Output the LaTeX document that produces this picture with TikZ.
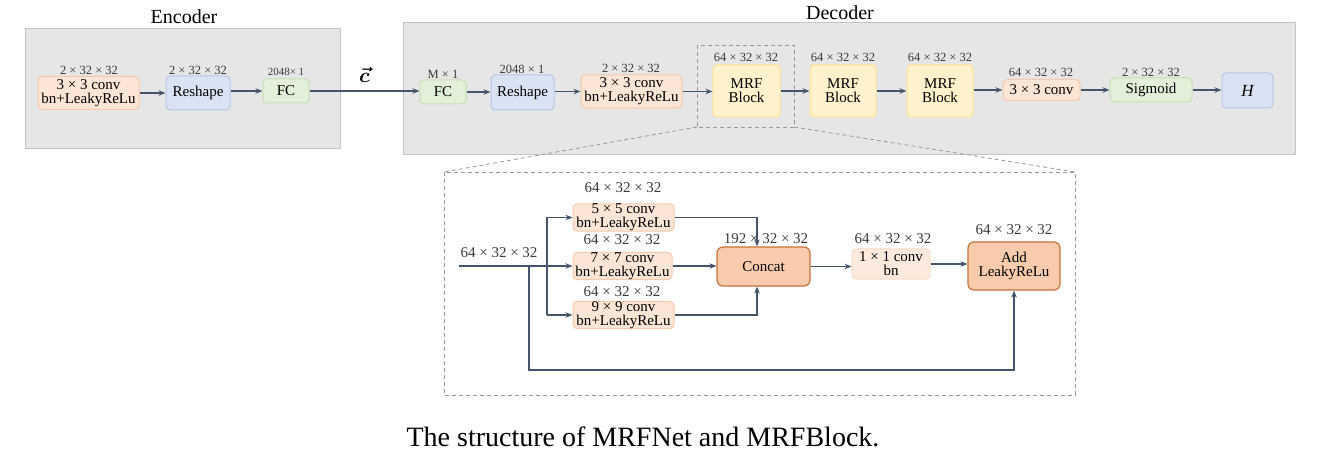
\documentclass[tikz,border=0pt]{standalone}
\usepackage{fontspec}
\setmainfont{Liberation Serif}
\usetikzlibrary{arrows.meta}
\definecolor{ofill}{HTML}{FBE5D6}
\definecolor{odraw}{HTML}{F6C9AA}
\definecolor{bfill}{HTML}{DAE3F3}
\definecolor{bdraw}{HTML}{B4C7E7}
\definecolor{gfill}{HTML}{E2F0D9}
\definecolor{gdraw}{HTML}{C5E0B4}
\definecolor{yfill}{HTML}{FFF2CC}
\definecolor{ydraw}{HTML}{FFE38F}
\definecolor{panel}{HTML}{E7E6E6}
\definecolor{paneldraw}{HTML}{C4C4C4}
\definecolor{arr}{HTML}{44546A}
\definecolor{cfill}{HTML}{F8CBAD}
\definecolor{cdraw}{HTML}{C8733A}
\definecolor{lblc}{HTML}{3A3A3A}
\begin{document}
\begin{tikzpicture}[x=1pt,y=-1pt,
  blk/.style={rounded corners=4pt, line width=1pt, inner sep=0pt, align=center,
    font=\fontsize{15}{14}\selectfont},
  ob/.style={blk, fill=ofill, draw=odraw},
  bb/.style={blk, fill=bfill, draw=bdraw},
  gb/.style={blk, fill=gfill, draw=gdraw},
  yb/.style={blk, fill=yfill, draw=ydraw},
  cb/.style={blk, fill=cfill, draw=cdraw, line width=1.2pt, rounded corners=6pt},
  lbl/.style={inner sep=0pt, text=lblc, font=\fontsize{12.5}{14}\selectfont},
  dlbl/.style={inner sep=0pt, text=lblc, font=\fontsize{15}{16}\selectfont},
  ttl/.style={inner sep=0pt, font=\fontsize{20}{22}\selectfont},
  ar/.style={draw=arr, line width=1.5pt, -{Stealth[length=7pt,width=5.5pt]}},
  dar/.style={ar, line width=1.9pt},
  ln/.style={draw=arr, line width=1.9pt},
  dsh/.style={draw=gray!80, line width=0.8pt, dash pattern=on 4pt off 3pt}
]
\useasboundingbox (0,0) rectangle (1324,470);

% ---------------- Encoder ----------------
\draw[fill=panel, draw=paneldraw, line width=0.8pt] (25,28) rectangle (340,148);
\node[ttl] (enc) at (184,17) {Encoder};

\node[ob, minimum width=101pt, minimum height=33pt] (e1) at (88.5,93) {3 × 3 conv\\bn+LeakyReLu};
\node[lbl] (e1l) at (89,70) {2 × 32 × 32};
\node[bb, minimum width=64pt, minimum height=34pt] (e2) at (198,93) {Reshape};
\node[lbl] (e2l) at (198,70) {2 × 32 × 32};
\node[gb, minimum width=46pt, minimum height=24pt] (e3) at (286,91) {FC};
\node[lbl, font=\fontsize{11}{12}\selectfont] (e3l) at (286,72) {2048× 1};

\draw[ar] (e1.east) -- (e1.east -| e2.west);
\draw[ar] (e2.east |- e3.west) -- (e3.west);

% ---------------- Decoder ----------------
\draw[fill=panel, draw=paneldraw, line width=0.8pt] (403,22) rectangle (1295,154);
\node[ttl] (dec) at (840,13) {Decoder};

\node[gb, minimum width=46pt, minimum height=24pt] (d1) at (443,92) {FC};
\node[lbl] (d1l) at (443,74) {M × 1};
\node[bb, minimum width=63pt, minimum height=35pt] (d2) at (522.5,92.5) {Reshape};
\node[lbl] (d2l) at (522,69) {2048 × 1};
\node[ob, minimum width=101pt, minimum height=33pt] (d3) at (631.5,91.5) {3 × 3 conv\\bn+LeakyReLu};
\node[lbl] (d3l) at (631,68) {2 × 32 × 32};

\draw[dsh] (697,45) rectangle (794,127);
\coordinate (zl) at (697,127);
\coordinate (zr) at (794,127);

\node[yb, minimum width=67pt, minimum height=52pt] (d4) at (746.5,91) {MRF\\Block};
\node[lbl] (d4l) at (746,57) {64 × 32 × 32};
\node[yb, minimum width=66pt, minimum height=52pt] (d5) at (843,91) {MRF\\Block};
\node[lbl] (d5l) at (843,57) {64 × 32 × 32};
\node[yb, minimum width=66pt, minimum height=52pt] (d6) at (940,91) {MRF\\Block};
\node[lbl] (d6l) at (940,57) {64 × 32 × 32};
\node[ob, minimum width=77pt, minimum height=21pt] (d7) at (1041.5,90) {3 × 3 conv};
\node[lbl] (d7l) at (1041,72) {64 × 32 × 32};
\node[gb, minimum width=82pt, minimum height=24pt] (d8) at (1151,90) {Sigmoid};
\node[lbl] (d8l) at (1151,72) {2 × 32 × 32};
\node[bb, minimum width=51pt, minimum height=35pt, font=\fontsize{17}{18}\selectfont\itshape] (d9) at (1247.5,90.5) {H};

\draw[ar] (e3.east) -- (e3.east -| d1.west) node[midway, above=4pt, font=\fontsize{22}{22}\selectfont\boldmath] (cvec) {$\vec{c}$};
\draw[ar] (d1.east) -- (d1.east -| d2.west);
\draw[ar] (d2.east |- d3.west) -- (d3.west);
\draw[ar] (d3.east) -- (d3.east -| d4.west);
\draw[ar] (d4.east) -- (d4.east -| d5.west);
\draw[ar] (d5.east) -- (d5.east -| d6.west);
\draw[ar] (d6.east |- d7.west) -- (d7.west);
\draw[ar] (d7.east) -- (d7.east -| d8.west);
\draw[ar] (d8.east) -- (d8.east -| d9.west);

% ---------------- MRF Block detail ----------------
\coordinate (bl) at (444,172);
\coordinate (br) at (1075,172);
\draw[dsh] (bl) rectangle (1075,395);
\draw[dsh] (zl) -- (bl);
\draw[dsh] (zr) -- (br);

\node[ob, minimum width=101pt, minimum height=27pt] (c5) at (623.5,217.5) {5 × 5 conv\\bn+LeakyReLu};
\node[dlbl] (c5l) at (623,188) {64 × 32 × 32};
\node[ob, minimum width=99pt, minimum height=27pt] (c7) at (622.5,266) {7 × 7 conv\\bn+LeakyReLu};
\node[dlbl] (c7l) at (622,240) {64 × 32 × 32};
\node[ob, minimum width=101pt, minimum height=27pt] (c9) at (623.5,315) {9 × 9 conv\\bn+LeakyReLu};
\node[dlbl] (c9l) at (622,291.5) {64 × 32 × 32};

\node[cb, minimum width=93pt, minimum height=39pt] (cat) at (763.5,266.5) {Concat};
\node[dlbl] (catl) at (766,239) {192 × 32 × 32};
\node[ob, fill=ofill!80, draw=odraw!70, minimum width=78pt, minimum height=30pt] (c1) at (891,264) {1 × 1 conv\\bn};
\node[dlbl] (c1l) at (893,239) {64 × 32 × 32};
\node[cb, minimum width=92pt, minimum height=48pt] (add) at (1014,266) {Add\\LeakyReLu};
\node[dlbl] (addl) at (1014,230) {64 × 32 × 32};

\coordinate (in) at (459,266);
\node[dlbl] (inl) at (499,253) {64 × 32 × 32};
\coordinate (sp) at (547,266);
\coordinate (sk) at (529,266);

\draw[dar] (in) -- (c7.west);
\draw[ln] (sp |- c5.west) -- (sp |- c9.west);
\draw[dar] (sp |- c5.west) -- (c5.west);
\draw[dar] (sp |- c9.west) -- (c9.west);
\draw[dar] (sk) -- (529,370) -| (add.south);
\draw[dar] (c5.east) -| (757,0 |- cat.north);
\draw[dar] (c9.east) -| (757,0 |- cat.south);
\draw[dar] (c7.east) -- (c7.east -| cat.west);
\draw[dar] (cat.east) -- (cat.east -| c1.west);
\draw[dar] (c1.east) -- (c1.east -| add.west);

% ---------------- Caption ----------------
\node[inner sep=0pt, font=\fontsize{28}{30}\selectfont] (cap) at (643,437) {The structure of MRFNet and MRFBlock.};
\end{tikzpicture}
\end{document}
